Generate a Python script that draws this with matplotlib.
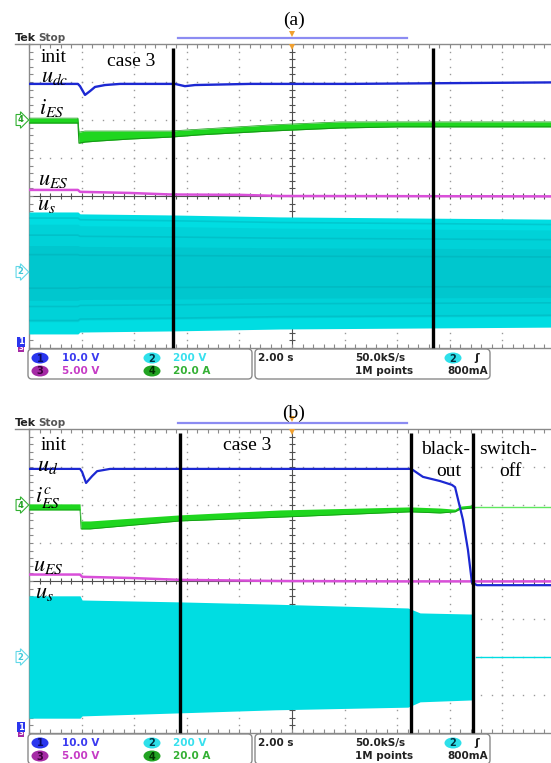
import numpy as np
import matplotlib
matplotlib.use("Agg")
import matplotlib.pyplot as plt
from matplotlib.patches import FancyBboxPatch, Ellipse
from matplotlib.ticker import MultipleLocator, NullFormatter

plt.rcParams['mathtext.fontset'] = 'stix'

W, H = 551, 763

# ---------------- data: time in s (2.00 s/div), values in screen divisions ----------------
# panel (a)
a_udc_t = [0.00, 1.86, 1.94, 2.13, 2.32, 2.51, 2.89, 3.46, 5.55, 5.93, 6.31, 8.40, 12.21, 16.01, 20.0]
a_udc_v = [2.95, 2.95, 2.89, 2.66, 2.76, 2.87, 2.92, 2.95, 2.95, 2.89, 2.92, 2.95, 2.95, 2.97, 2.99]

a_ies_t = [0.00, 1.86, 1.90, 2.13, 2.70, 3.84, 5.36, 6.50, 9.16, 11.83, 14.11, 20.0]
a_ies_top = [2.05, 2.05, 1.68, 1.71, 1.71, 1.71, 1.71, 1.76, 1.87, 1.95, 1.95, 1.95]
a_ies_bot = [1.92, 1.92, 1.39, 1.42, 1.45, 1.50, 1.55, 1.61, 1.71, 1.79, 1.82, 1.82]

a_ues_t = [0.00, 1.86, 1.94, 3.84, 5.36, 8.02, 9.54, 20.0]
a_ues_v = [0.16, 0.16, 0.11, 0.08, 0.04, 0.03, 0.00, -0.01]

a_us_t = [0.00, 1.86, 1.94, 5.55, 9.54, 20.0]
a_us_top = [-0.42, -0.42, -0.47, -0.50, -0.55, -0.61]
a_us_bot = [-3.63, -3.63, -3.58, -3.55, -3.50, -3.45]

a_marks = [5.46, 15.36]

# panel (b)
b_ud_t = [0.00, 1.94, 2.02, 2.17, 2.40, 2.59, 3.08, 14.49, 14.60, 14.98, 15.63, 16.08, 16.20,
          16.50, 16.69, 16.84, 17.03, 20.0]
b_ud_v = [2.95, 2.95, 2.87, 2.58, 2.76, 2.89, 2.95, 2.95, 2.92, 2.74, 2.63, 2.53, 2.47,
          1.61, 0.82, -0.03, -0.11, -0.11]

b_ies_t = [0.00, 1.94, 1.98, 2.32, 5.74, 9.54, 14.49, 15.63, 16.20, 16.39, 16.84, 16.88]
b_ies_top = [2.03, 2.03, 1.58, 1.58, 1.74, 1.87, 1.95, 1.92, 1.89, 1.97, 2.00, 1.97]
b_ies_bot = [1.87, 1.87, 1.37, 1.37, 1.58, 1.68, 1.82, 1.79, 1.82, 1.89, 1.92, 1.92]
b_ies_off_t = [16.88, 20.0]
b_ies_off_v = [1.95, 1.95]

b_ues_t = [0.00, 1.94, 2.02, 3.84, 5.74, 9.54, 14.11, 20.0]
b_ues_v = [0.17, 0.17, 0.11, 0.08, 0.03, 0.00, -0.01, -0.01]

b_us_t = [0.00, 1.94, 2.02, 5.74, 9.35, 14.41, 14.87, 16.84]
b_us_top = [-0.39, -0.39, -0.50, -0.55, -0.61, -0.71, -0.84, -0.87]
b_us_bot = [-3.61, -3.61, -3.55, -3.47, -3.39, -3.32, -3.18, -3.13]
b_us_off_t = [16.99, 20.0]
b_us_off_v = [-2.0, -2.0]

b_marks = [5.74, 14.52, 16.88]

# readout texts
ch_ids = ['1', '3', '2', '4']
ch_scales = ['10.0 V', '5.00 V', '200 V', '20.0 A']
timebase = '2.00 s'
sample_rate = '50.0kS/s'
record_len = '1M points'
trig_ch = '2'
trig_level = '800mA'

# ---------------- colours ----------------
C_BLUE = '#1c28d2'
C_GREEN = '#1fd61f'
C_GREEN_D = '#169a16'
C_MAG = '#d94fd9'
C_CYAN = '#00dde2'
C_CYAN_D = '#00a3ae'
C_GRID = '#9a9a9a'

fig = plt.figure(figsize=(W / 100, H / 100), dpi=100)
fig.patch.set_facecolor('white')


def pix_axes(x0, y0, w, h):
    return fig.add_axes([x0 / W, 1 - (y0 + h) / H, w / W, h / H])


def screen(ax):
    ax.set_xlim(0, 20)
    ax.set_ylim(-4, 4)
    ax.set_facecolor('white')
    for s in ax.spines.values():
        s.set_color('#8a8a8a')
        s.set_linewidth(1.0)
    ax.spines['right'].set_visible(False)
    ax.xaxis.set_major_locator(MultipleLocator(2))
    ax.xaxis.set_minor_locator(MultipleLocator(0.4))
    ax.yaxis.set_major_locator(MultipleLocator(1))
    ax.yaxis.set_minor_locator(MultipleLocator(0.2))
    ax.xaxis.set_major_formatter(NullFormatter())
    ax.yaxis.set_major_formatter(NullFormatter())
    ax.tick_params(which='both', direction='in', top=True, bottom=True, left=True, right=False,
                   length=3, width=0.8, color='#8a8a8a')
    yy = np.arange(-4, 4.01, 0.2)
    for gx in range(2, 20, 2):
        if gx == 10:
            continue
        ax.plot(np.full_like(yy, gx), yy, ls='none', marker='s', ms=1.0, color=C_GRID, mew=0, zorder=1)
    xx = np.arange(0, 20.01, 0.4)
    for gy in [-3, -2, -1, 1, 2, 3]:
        ax.plot(xx, np.full_like(xx, gy), ls='none', marker='s', ms=1.0, color=C_GRID, mew=0, zorder=1)
    ax.axvline(10, color='#505050', lw=0.8, zorder=1)
    ax.axhline(0, color='#505050', lw=0.8, zorder=1)
    ax.plot(xx, np.zeros_like(xx), ls='none', marker='|', ms=5, mew=0.8, color='#505050', zorder=1)
    ax.plot(np.full_like(yy, 10), yy, ls='none', marker='_', ms=5, mew=0.8, color='#505050', zorder=1)


def marks(ax, ts):
    for t in ts:
        ax.plot([t, t], [3.89, -4.1], color='black', lw=2.4, zorder=10, clip_on=False,
                solid_capstyle='butt')


# ---------------- panel (a) ----------------
axa = pix_axes(29, 44, 526, 304)
screen(axa)
t = np.array(a_us_t)
top = np.array(a_us_top)
bot = np.array(a_us_bot)
axa.fill_between(t, bot, top, color=C_CYAN, lw=0, zorder=3)
mid = (top + bot) / 2
half = (top - bot) / 2
axa.fill_between(t, mid - 0.8 * half, mid + 0.8 * half, color=C_CYAN_D, alpha=0.18, lw=0, zorder=3)
axa.fill_between(t, mid - 0.45 * half, mid + 0.45 * half, color=C_CYAN_D, alpha=0.22, lw=0, zorder=3)
for f in (0.9, 0.62, 0.3, -0.25, -0.55, -0.78):
    axa.plot(t, mid + f * half, color=C_CYAN_D, alpha=0.35, lw=1.2, zorder=3)
axa.plot(a_ues_t, a_ues_v, color=C_MAG, lw=1.8, zorder=4)
axa.fill_between(a_ies_t, a_ies_bot, a_ies_top, color=C_GREEN, lw=0, zorder=5)
axa.plot(a_ies_t, a_ies_bot, color=C_GREEN_D, lw=0.8, zorder=5)
axa.plot(a_ies_t, a_ies_top, color=C_GREEN_D, lw=0.5, zorder=5)
axa.plot(a_udc_t, a_udc_v, color=C_BLUE, lw=1.7, zorder=6)
marks(axa, a_marks)

# ---------------- panel (b) ----------------
axb = pix_axes(29, 429, 526, 304)
screen(axb)
axb.fill_between(b_us_t, b_us_bot, b_us_top, color=C_CYAN, lw=0, zorder=3)
axb.plot(b_us_off_t, b_us_off_v, color=C_CYAN, lw=1.0, zorder=3)
axb.plot(b_ues_t, b_ues_v, color=C_MAG, lw=1.8, zorder=4)
axb.fill_between(b_ies_t, b_ies_bot, b_ies_top, color=C_GREEN, lw=0, zorder=5)
axb.plot(b_ies_t, b_ies_bot, color=C_GREEN_D, lw=0.6, zorder=5)
axb.plot(b_ies_off_t, b_ies_off_v, color='#5fe85f', lw=1.0, zorder=5)
axb.plot(b_ud_t, b_ud_v, color=C_BLUE, lw=1.6, zorder=6)
marks(axb, b_marks)

# ---------------- overlay in pixel coordinates ----------------
ov = fig.add_axes([0, 0, 1, 1], zorder=20)
ov.set_xlim(0, W)
ov.set_ylim(H, 0)
ov.axis('off')
ov.patch.set_alpha(0)

SERIF = 'Liberation Serif'


def header(y_top, lab, lab_y):
    ov.plot([15, 29], [y_top, y_top], color='#8a8a8a', lw=1.0)
    ov.text(15, y_top - 6, 'Tek', fontsize=8, fontweight='bold', color='#222222', va='center', ha='left')
    ov.text(38, y_top - 6, 'Stop', fontsize=7.5, fontweight='bold', color='#555555', va='center', ha='left')
    ov.plot([178, 407], [y_top - 6, y_top - 6], color='#8c8cf2', lw=1.6)
    ov.plot([292], [y_top - 10], marker='v', ms=4, color='#f0a030', mew=0)
    ov.plot([292], [y_top + 3], marker='v', ms=4, color='#f0a030', mew=0)
    ov.text(294, lab_y, lab, fontsize=14, family=SERIF, ha='center', va='center')


def readout(y_top):
    ov.add_patch(FancyBboxPatch((28, y_top), 224, 30, boxstyle='round,pad=0,rounding_size=4',
                                fc='white', ec='#8a8a8a', lw=1.0))
    ov.add_patch(FancyBboxPatch((255, y_top), 235, 30, boxstyle='round,pad=0,rounding_size=4',
                                fc='white', ec='#8a8a8a', lw=1.0))
    r1, r2 = y_top + 9, y_top + 22
    circ = [('#2a36ee', '#0a0a60'), ('#a52aa5', '#3a003a'), ('#2ee0ea', '#003040'), ('#22a322', '#003000')]
    txtc = ['#3a3af0', '#c63cc6', '#38e0ee', '#34b034']
    pos = [(40, r1, 62), (40, r2, 62), (152, r1, 173), (152, r2, 173)]
    for (cx, cy, tx), cid, sc, (fc, tc), c2 in zip(pos, ch_ids, ch_scales, circ, txtc):
        ov.add_patch(Ellipse((cx, cy), 17, 11, fc=fc, ec='none'))
        ov.text(cx, cy + 0.5, cid, fontsize=7, fontweight='bold', color=tc, ha='center', va='center')
        ov.text(tx, cy, sc, fontsize=7.5, fontweight='bold', color=c2, ha='left', va='center')
    ov.text(258, r1, timebase, fontsize=7.5, fontweight='bold', color='#222222', ha='left', va='center')
    ov.text(355, r1, sample_rate, fontsize=7.5, fontweight='bold', color='#222222', ha='left', va='center')
    ov.text(355, r2, record_len, fontsize=7.5, fontweight='bold', color='#222222', ha='left', va='center')
    ov.add_patch(Ellipse((453, r1), 17, 11, fc='#2ee0ea', ec='none'))
    ov.text(453, r1 + 0.5, trig_ch, fontsize=7, fontweight='bold', color='#003040', ha='center', va='center')
    ov.text(477, r1, '\u0283', fontsize=8, fontweight='bold', color='#222222', ha='center', va='center')
    ov.text(447, r2, trig_level, fontsize=7.5, fontweight='bold', color='#222222', ha='left', va='center')


def markers(y_green, y_cyan, y_bottom):
    ov.text(20, y_green, '4', fontsize=6, color='#20a020', fontweight='bold', ha='center', va='center',
            bbox=dict(boxstyle='rarrow,pad=0.12', fc='white', ec='#30b030', lw=0.8))
    ov.text(20, y_cyan, '2', fontsize=6, color='#40c8d8', fontweight='bold', ha='center', va='center',
            bbox=dict(boxstyle='rarrow,pad=0.12', fc='white', ec='#60d8e8', lw=0.8))
    ov.text(21, y_bottom + 3, '3', fontsize=5, color='white', fontweight='bold', ha='center', va='center',
            bbox=dict(boxstyle='square,pad=0.1', fc='#a52aa5', ec='none'))
    ov.text(21, y_bottom - 3, '1', fontsize=6, color='white', fontweight='bold', ha='center', va='center',
            bbox=dict(boxstyle='square,pad=0.1', fc='#2a36ee', ec='none'))


header(44, '(a)', 20)
readout(349)
markers(120, 272, 345)
header(429, '(b)', 413)
readout(734)
markers(505, 657, 730)

TS = 14
MS = 16
# labels panel (a)
ov.text(54, 57, 'init', fontsize=TS, family=SERIF, ha='center', va='center')
ov.text(131, 61, 'case 3', fontsize=TS, family=SERIF, ha='center', va='center')
ov.text(41, 77, r'$u_{dc}$', fontsize=MS, ha='left', va='center')
ov.text(39, 108, r'$i_{ES}$', fontsize=MS, ha='left', va='center')
ov.text(38, 180, r'$u_{ES}$', fontsize=MS, ha='left', va='center')
ov.text(37, 205, r'$u_{s}$', fontsize=MS, ha='left', va='center')
# labels panel (b)
ov.text(54, 446, 'init', fontsize=TS, family=SERIF, ha='center', va='center')
ov.text(247, 446, 'case 3', fontsize=TS, family=SERIF, ha='center', va='center')
ov.text(37, 466, r'$u_{d}$', fontsize=MS, ha='left', va='center')
ov.text(35, 498, r'$i_{ES}^{c}$', fontsize=MS, ha='left', va='center')
ov.text(33, 566, r'$u_{ES}$', fontsize=MS, ha='left', va='center')
ov.text(35, 593, r'$u_{s}$', fontsize=MS, ha='left', va='center')
ov.text(446, 450, 'black-', fontsize=TS, family=SERIF, ha='center', va='center')
ov.text(449, 472, 'out', fontsize=TS, family=SERIF, ha='center', va='center')
ov.text(508, 450, 'switch-', fontsize=TS, family=SERIF, ha='center', va='center')
ov.text(510, 472, 'off', fontsize=TS, family=SERIF, ha='center', va='center')

fig.savefig('out.png', dpi=100, facecolor='white')
